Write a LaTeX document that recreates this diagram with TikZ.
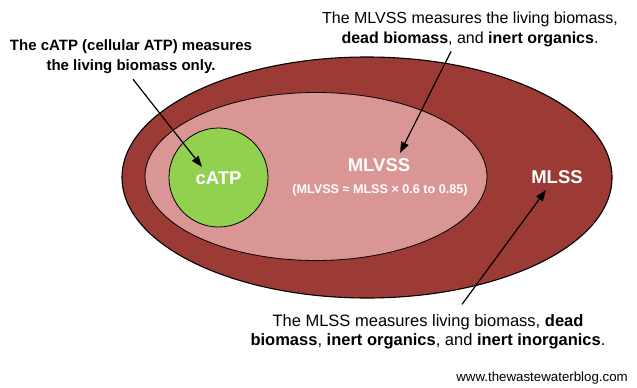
\documentclass[tikz,border=0pt]{standalone}
\usepackage{fontspec}
\setmainfont{Liberation Sans}
\usetikzlibrary{arrows.meta}
\definecolor{mlssred}{HTML}{9C3B36}
\definecolor{mlvsspink}{HTML}{D99694}
\definecolor{catpgreen}{HTML}{92D050}

\begin{document}
\begin{tikzpicture}[x=1pt,y=-1pt,
  pointer/.style={-{Triangle[length=11pt,width=8pt]},line width=1.2pt},
  note/.style={align=center,inner sep=0pt,font=\fontsize{16}{20.5}\selectfont},
  inlabel/.style={text=white,inner sep=0pt,font=\bfseries\fontsize{18.5}{22}\selectfont}]
\useasboundingbox (0,0) rectangle (637,388);
% the three solids
\filldraw[fill=mlssred,line width=1.1pt] (367,177.5) ellipse [x radius=245pt,y radius=120.5pt];
\filldraw[fill=mlvsspink,line width=0.8pt] (316,176.5) ellipse [x radius=171pt,y radius=84pt];
\filldraw[fill=catpgreen,line width=0.8pt] (218.5,177.5) circle [radius=49.5pt];
% labels inside
\node[inlabel] (catp) at (218.5,178) {cATP};
\node[inlabel] (mlvss) at (379,165) {MLVSS};
\node[text=white,inner sep=0pt,font=\bfseries\fontsize{12.6}{14}\selectfont] (ratio) at (380,190) {(MLVSS ≈ MLSS × 0.6 to 0.85)};
\node[inlabel] (mlss) at (557,177) {MLSS};
% notes
\node[note,font=\bfseries\fontsize{15}{20}\selectfont] (catpnote) at (131,57) {The cATP (cellular ATP) measures\\the living biomass only.};
\node[note] (mlvssnote) at (470,29.5) {The MLVSS measures the living biomass,\\\textbf{dead biomass}, and \textbf{inert organics}.};
\node[note,font=\fontsize{16.5}{19.5}\selectfont] (mlssnote) at (428,332) {The MLSS measures living biomass, \textbf{dead}\\\textbf{biomass}, \textbf{inert organics}, and \textbf{inert inorganics}.};
\node[anchor=east,inner sep=0pt,font=\fontsize{13.3}{15}\selectfont] (site) at (628,378) {www.thewastewaterblog.com};
% arrow ends
\coordinate (catptip) at (202,167);
\coordinate (mlvsstip) at (400,153);
\coordinate (mlsstip) at (546,190);
\draw[pointer] (catpnote.south -| 133,0) ++(0,5) -- (catptip);
\draw[pointer] (mlvssnote.south -| 451,0) ++(0,4) -- (mlvsstip);
\draw[pointer] (mlssnote.north -| 462,0) ++(0,-10) -- (mlsstip);
\end{tikzpicture}
\end{document}
